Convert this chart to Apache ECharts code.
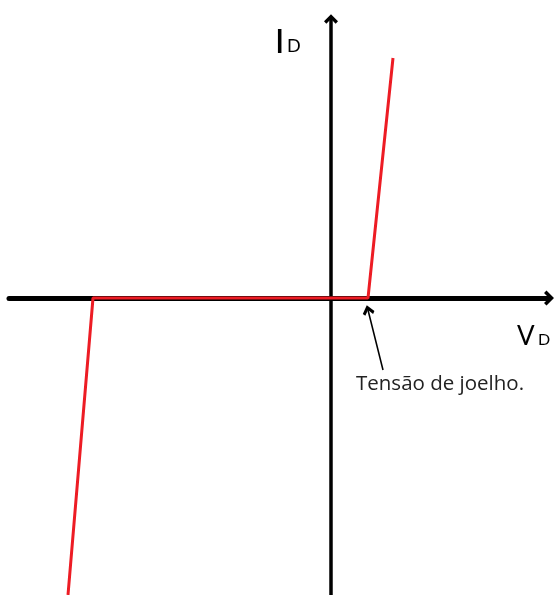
<!DOCTYPE html>
<html>
<head>
<meta charset="utf-8">
<script src="https://cdn.jsdelivr.net/npm/echarts@6/dist/echarts.min.js"></script>
<style>
  html, body { margin: 0; padding: 0; background: #fff; }
</style>
</head>
<body>
<div id="grafico" style="width:557px;height:595px;"></div>
<script>
// curva do diodo: tensao (V_D) e corrente (I_D), unidades arbitrarias
var tensao = [-26.3, -23.8, 3.7, 6.2];
var corrente = [-29.7, 0, 0, 24.0];
// seta da anotacao "Tensão de joelho." (inicio -> ponta)
var setaInicio = [5.2, -7.2];
var setaFim = [3.7, -1.2];
// limites dos eixos
var xLim = [-32.2, 21.8];
var yLim = [-29.7, 27.9];

// ponta de seta aberta (chevron)
var chevron = "path://M0,12 L12,0 L24,12 L20,16 L12,8 L4,16 Z";

var myChart = echarts.init(document.getElementById("grafico"));

var option = {
  animation: false,
  backgroundColor: "#fff",
  grid: {
    left: 9,
    right: 8,
    top: 19,
    bottom: 0,
    containLabel: false
  },
  xAxis: {
    type: "value",
    min: xLim[0],
    max: xLim[1],
    axisLine: {
      onZero: true,
      symbol: ["none", chevron],
      symbolSize: [15, 12],
      lineStyle: { color: "#000", width: 5 }
    },
    axisTick: { show: false },
    axisLabel: { show: false },
    splitLine: { show: false }
  },
  yAxis: {
    type: "value",
    min: yLim[0],
    max: yLim[1],
    axisLine: {
      onZero: true,
      symbol: ["none", chevron],
      symbolSize: [14, 14],
      lineStyle: { color: "#000", width: 3.5 }
    },
    axisTick: { show: false },
    axisLabel: { show: false },
    splitLine: { show: false }
  },
  series: [
    {
      type: "line",
      data: tensao.map(function(v, i) {
        return [v, corrente[i]];
      }),
      showSymbol: false,
      z: 5,
      lineStyle: { color: "#ed1c24", width: 3 },
      markLine: {
        silent: true,
        symbol: ["none", chevron],
        symbolSize: [12, 10],
        label: { show: false },
        lineStyle: { color: "#000", width: 1.5, type: "solid" },
        data: [[{ coord: setaInicio }, { coord: setaFim }]]
      }
    }
  ],
  graphic: [
    {
      type: "text", left: 275, top: 26,
      style: { text: "I", font: "500 33px Lato", fill: "#000" }
    },
    {
      type: "text", left: 287, top: 37,
      style: { text: "D", font: "18px Lato", fill: "#000" }
    },
    {
      type: "text", left: 517, top: 324,
      style: { text: "V", font: "26px Lato", fill: "#000" }
    },
    {
      type: "text", left: 538, top: 332,
      style: { text: "D", font: "16px Lato", fill: "#000" }
    },
    {
      type: "text", left: 356, top: 374,
      style: { text: "Tensão de joelho.", font: "20.5px 'Open Sans'", fill: "#222" }
    }
  ]
};

myChart.setOption(option, true);
window.onresize = function() {
  myChart.resize();
};
</script>
</body>
</html>
